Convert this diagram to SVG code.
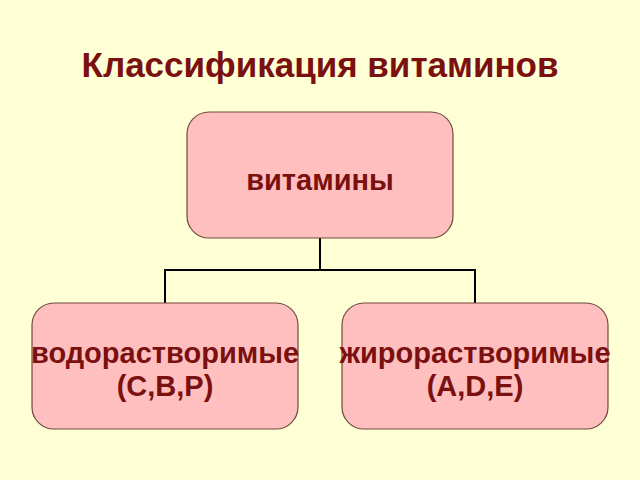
<svg xmlns="http://www.w3.org/2000/svg" width="640" height="480" viewBox="0 0 640 480">
<style>
.box{fill:#ffbfbf;stroke:#6e4a3a;stroke-width:1.2}
.t{font-family:"Liberation Sans",Arial,sans-serif;font-weight:bold;fill:#7a1010;text-anchor:middle}
.lbl{font-size:29px}
.conn{stroke:#000;stroke-width:2;fill:none}
</style>
<rect x="0" y="0" width="640" height="480" fill="#ffffd6"/>
<text class="t" x="320" y="77" font-size="35">Классификация витаминов</text>
<g id="connectors">
<path class="conn" d="M320 238 V270 M165 270 H475 M165 269 V303 M475 269 V303"/>
</g>
<g id="vitamins">
<rect class="box" x="187" y="112" width="266" height="126" rx="22"/>
<text class="t lbl" x="320" y="190">витамины</text>
</g>
<g id="water">
<rect class="box" x="32" y="303" width="266" height="126" rx="22"/>
<text class="t lbl" x="165" y="363">водорастворимые</text>
<text class="t lbl" x="165" y="396">(C,B,P)</text>
</g>
<g id="fat">
<rect class="box" x="342" y="303" width="266" height="126" rx="22"/>
<text class="t lbl" x="475" y="363">жирорастворимые</text>
<text class="t lbl" x="475" y="396">(A,D,E)</text>
</g>
</svg>
